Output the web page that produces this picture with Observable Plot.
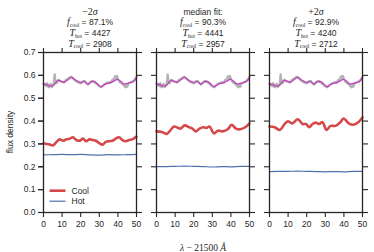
<!DOCTYPE html>
<html><head><meta charset="utf-8">
<script src="https://cdn.jsdelivr.net/npm/d3@7"></script>
<script src="https://cdn.jsdelivr.net/npm/@observablehq/plot@0.6"></script>
<style>
body{margin:0;background:#fff}
#chart{width:374px;height:252px;position:relative}
</style>
</head><body><div id="chart"></div>
<script>
// ---- data ----
const panels = ["minus", "median", "plus"];
const titleLine1 = ["−2σ", "median fit:", "+2σ"];
const fCool = ["87.1%", "90.3%", "92.9%"];
const tHot = [4427, 4441, 4240];
const tCool = [2908, 2957, 2712];
const xTicks = [0, 10, 20, 30, 40, 50];
const yTicks = [0, 0.1, 0.2, 0.3, 0.4, 0.5, 0.6, 0.7];
const legendLabels = ["Cool", "Hot"];

// observed spectrum (grey), same in every panel
const obsX = [0,0.5,1,1.5,2,2.5,3,3.5,4,4.5,5,5.5,6,6.5,7,7.5,8,9,10,11,12,13,14,15,16,17,18,19,20,21,22,23,24,25,26,27,28,29,30,31,32,33,34,35,36,37,38,38.5,39,39.5,40,41,42,43,44,44.5,45,45.5,46,47,48,49,50];
const observed = [0.565,0.556,0.562,0.553,0.566,0.550,0.548,0.560,0.562,0.549,0.555,0.560,0.604,0.566,0.566,0.572,0.580,0.574,0.572,0.568,0.580,0.584,0.590,0.594,0.586,0.578,0.572,0.568,0.565,0.574,0.576,0.566,0.560,0.570,0.575,0.572,0.566,0.560,0.552,0.548,0.556,0.562,0.566,0.570,0.568,0.580,0.586,0.596,0.588,0.597,0.584,0.570,0.565,0.558,0.548,0.560,0.550,0.562,0.566,0.570,0.574,0.580,0.594];

// total model (magenta)
const modelX = [0,1.7,3.5,5.2,6.6,7.9,9.6,11.4,13.2,15,16.7,18.5,20.3,22,23.8,25.6,27.3,29.1,30.9,32.7,34.4,36.2,38,39.7,41.5,43.3,45,46.8,48.6,50];
const modelMinus  = [0.562,0.559,0.553,0.556,0.568,0.579,0.574,0.571,0.581,0.591,0.582,0.574,0.568,0.574,0.562,0.571,0.574,0.562,0.550,0.559,0.565,0.568,0.576,0.582,0.574,0.562,0.565,0.568,0.574,0.591];
const modelMedian = [0.562,0.559,0.553,0.556,0.568,0.579,0.574,0.571,0.581,0.591,0.582,0.574,0.568,0.574,0.562,0.571,0.574,0.562,0.550,0.559,0.565,0.568,0.576,0.582,0.574,0.562,0.565,0.568,0.574,0.591];
const modelPlus   = [0.562,0.559,0.553,0.556,0.568,0.579,0.574,0.571,0.581,0.591,0.582,0.574,0.568,0.574,0.562,0.571,0.574,0.562,0.550,0.559,0.565,0.568,0.576,0.582,0.574,0.562,0.565,0.568,0.574,0.591];

// cool component (red)
const coolMinusX = [0,1.7,3.5,5.2,7,8.8,10.5,12.3,14.1,15.8,17.6,19.4,21.2,22.9,24.7,26.5,28.2,30,31.8,33.5,35.3,37.1,38.8,40.6,42.4,44.2,45.9,47.7,50];
const coolMinus = [0.303,0.300,0.297,0.294,0.309,0.320,0.314,0.320,0.323,0.329,0.317,0.314,0.323,0.312,0.320,0.317,0.314,0.303,0.297,0.309,0.312,0.314,0.323,0.329,0.317,0.312,0.317,0.320,0.332];
const coolMedianX = [0,2.8,5.5,8.2,9.4,11.7,12.9,15.2,17.6,19.3,21.1,23.2,25,26.8,28.5,30.9,33,35.6,38.3,40.4,42.7,44.9,47.7,50];
const coolMedian = [0.355,0.352,0.344,0.367,0.376,0.370,0.367,0.381,0.373,0.367,0.355,0.367,0.373,0.370,0.376,0.346,0.358,0.355,0.364,0.384,0.367,0.364,0.373,0.390];
const coolPlusX = [0,2.8,5.5,8.1,9.9,12.2,15.2,17.8,19.6,21.4,23.1,24.9,26.7,28.4,30.7,32.8,35.5,38.2,39.9,42.6,45.2,47.9,50];
const coolPlus = [0.376,0.373,0.361,0.387,0.399,0.390,0.408,0.387,0.387,0.373,0.387,0.393,0.387,0.396,0.361,0.379,0.379,0.396,0.411,0.390,0.384,0.396,0.416];

// hot component (blue)
const hotX = [0,5,10,15,20,25,30,35,40,45,50];
const hotMinus  = [0.252,0.253,0.254,0.253,0.254,0.252,0.251,0.253,0.252,0.253,0.254];
const hotMedian = [0.201,0.201,0.202,0.203,0.202,0.201,0.199,0.201,0.200,0.202,0.202];
const hotPlus   = [0.179,0.180,0.180,0.181,0.180,0.179,0.178,0.179,0.178,0.180,0.180];

// ---- tables ----
const modelSets = [modelMinus, modelMedian, modelPlus];
const coolSets = [[coolMinusX, coolMinus], [coolMedianX, coolMedian], [coolPlusX, coolPlus]];
const hotSets = [hotMinus, hotMedian, hotPlus];
const obsRows = panels.flatMap(p => obsX.map((x, i) => ({panel: p, x, y: observed[i]})));
const modelRows = panels.flatMap((p, k) => modelX.map((x, i) => ({panel: p, x, y: modelSets[k][i]})));
const coolRows = panels.flatMap((p, k) => coolSets[k][0].map((x, i) => ({panel: p, x, y: coolSets[k][1][i]})));
const hotRows = panels.flatMap((p, k) => hotX.map((x, i) => ({panel: p, x, y: hotSets[k][i]})));

const ink = "#262626";
const cRed = "#d44a4a", cBlue = "#4c72b0", cMag = "#c040c0", cGrey = "#a6a6a6";

const plot = Plot.plot({
  width: 374, height: 252,
  marginTop: 52, marginBottom: 40, marginLeft: 42, marginRight: 11,
  style: {fontFamily: "'Liberation Sans', Arial, sans-serif", fontSize: "8.5px", color: ink, background: "#fff", overflow: "visible"},
  fx: {domain: panels, paddingInner: 0.174, paddingOuter: 0, axis: null, label: null},
  x: {domain: [0, 50]},
  y: {domain: [0, 0.7]},
  marks: [
    Plot.line(obsRows, {x: "x", y: "y", fx: "panel", stroke: cGrey, strokeWidth: 2.3, strokeOpacity: 0.85}),
    Plot.line(modelRows, {x: "x", y: "y", fx: "panel", stroke: cMag, strokeWidth: 1.3, curve: "catmull-rom"}),
    Plot.line(coolRows, {x: "x", y: "y", fx: "panel", stroke: cRed, strokeWidth: 2.6, curve: "catmull-rom"}),
    Plot.line(hotRows, {x: "x", y: "y", fx: "panel", stroke: cBlue, strokeWidth: 1.2, curve: "catmull-rom"}),
    Plot.frame({stroke: ink, strokeWidth: 1.3}),
    Plot.axisX({anchor: "bottom", ticks: xTicks, tickSize: 5, tickPadding: 3, label: null, facetAnchor: null, strokeWidth: 1.1}),
    Plot.axisX({anchor: "top", ticks: xTicks, tickSize: 5, tickFormat: () => "", label: null, facetAnchor: null, strokeWidth: 1.1}),
    Plot.axisY({anchor: "left", ticks: yTicks, tickSize: 5, tickPadding: 3, tickFormat: d3.format(".1f"), label: null, strokeWidth: 1.1}),
    Plot.axisY({anchor: "left", ticks: yTicks, tickSize: 5, tickFormat: () => "", label: null, facetAnchor: null, strokeWidth: 1.1}),
    Plot.axisY({anchor: "right", ticks: yTicks, tickSize: 5, tickFormat: () => "", label: null, facetAnchor: null, strokeWidth: 1.1})
  ]
});
document.getElementById("chart").appendChild(plot);

// ---- annotations (titles, labels, legend) ----
const svg = d3.select(plot);
const svgBox = plot.getBoundingClientRect();
const frames = Array.from(plot.querySelectorAll('g[aria-label="frame"] rect')).map(r => {
  const b = r.getBoundingClientRect();
  return {left: b.left - svgBox.left, right: b.right - svgBox.left, top: b.top - svgBox.top, bottom: b.bottom - svgBox.top};
}).sort((a, b) => a.left - b.left);
const fallback = [{left: 42, right: 136}, {left: 155.5, right: 249.5}, {left: 269, right: 363}];
const boxes = frames.length === 3 ? frames : fallback;

const ann = svg.append("g").attr("fill", ink).attr("text-anchor", "start");
const serif = "'Liberation Serif', 'DejaVu Serif', serif";
const sans = "'Liberation Sans', Arial, sans-serif";

function mathLine(g, cx, y, sym, sub, rest) {
  const t = g.append("text").attr("x", cx).attr("y", y).attr("text-anchor", "middle").attr("font-family", sans).attr("font-size", 8.5);
  t.append("tspan").attr("font-family", serif).attr("font-style", "italic").attr("font-size", 10).text(sym);
  t.append("tspan").attr("font-family", serif).attr("font-size", 5.5).attr("dy", 1.8).text(sub);
  t.append("tspan").attr("dy", -1.8).text(" = " + rest);
}

panels.forEach((p, k) => {
  const b = boxes[k];
  const cx = (b.left + b.right) / 2;
  const line1 = titleLine1[k];
  if (line1.endsWith("σ")) {
    const t = ann.append("text").attr("x", cx).attr("y", 14.5).attr("text-anchor", "middle").attr("font-family", serif).attr("font-size", 10);
    t.append("tspan").text(line1.slice(0, -1));
    t.append("tspan").attr("font-style", "italic").text("σ");
  } else {
    ann.append("text").attr("x", cx).attr("y", 14.5).attr("text-anchor", "middle").attr("font-family", sans).attr("font-size", 8.5).text(line1);
  }
  mathLine(ann, cx, 25.2, "f", "cool", fCool[k]);
  mathLine(ann, cx, 35.8, "T", "hot", tHot[k]);
  mathLine(ann, cx, 46.6, "T", "cool", tCool[k]);
});

// y label
ann.append("text").attr("transform", "translate(12.5,132) rotate(-90)").attr("text-anchor", "middle")
  .attr("font-family", sans).attr("font-size", 8.5).text("flux density");

// x label
const xl = ann.append("text").attr("x", (boxes[0].left + boxes[2].right) / 2).attr("y", 251).attr("text-anchor", "middle")
  .attr("font-family", serif).attr("font-size", 9.5);
xl.append("tspan").attr("font-style", "italic").text("λ");
xl.append("tspan").text(" − 21500 ");
xl.append("tspan").attr("font-style", "italic").text("Å");

// legend in first panel
const lx = boxes[0].left;
const legend = [{label: legendLabels[0], color: cRed, w: 2.6, y: 190.7}, {label: legendLabels[1], color: cBlue, w: 1.2, y: 201.2}];
legend.forEach(d => {
  ann.append("line").attr("x1", lx + 6).attr("x2", lx + 22).attr("y1", d.y).attr("y2", d.y)
    .attr("stroke", d.color).attr("stroke-width", d.w);
  ann.append("text").attr("x", lx + 28).attr("y", d.y).attr("dy", "0.35em").attr("text-anchor", "start")
    .attr("font-family", sans).attr("font-size", 8.5).text(d.label);
});
</script>
</body></html>
